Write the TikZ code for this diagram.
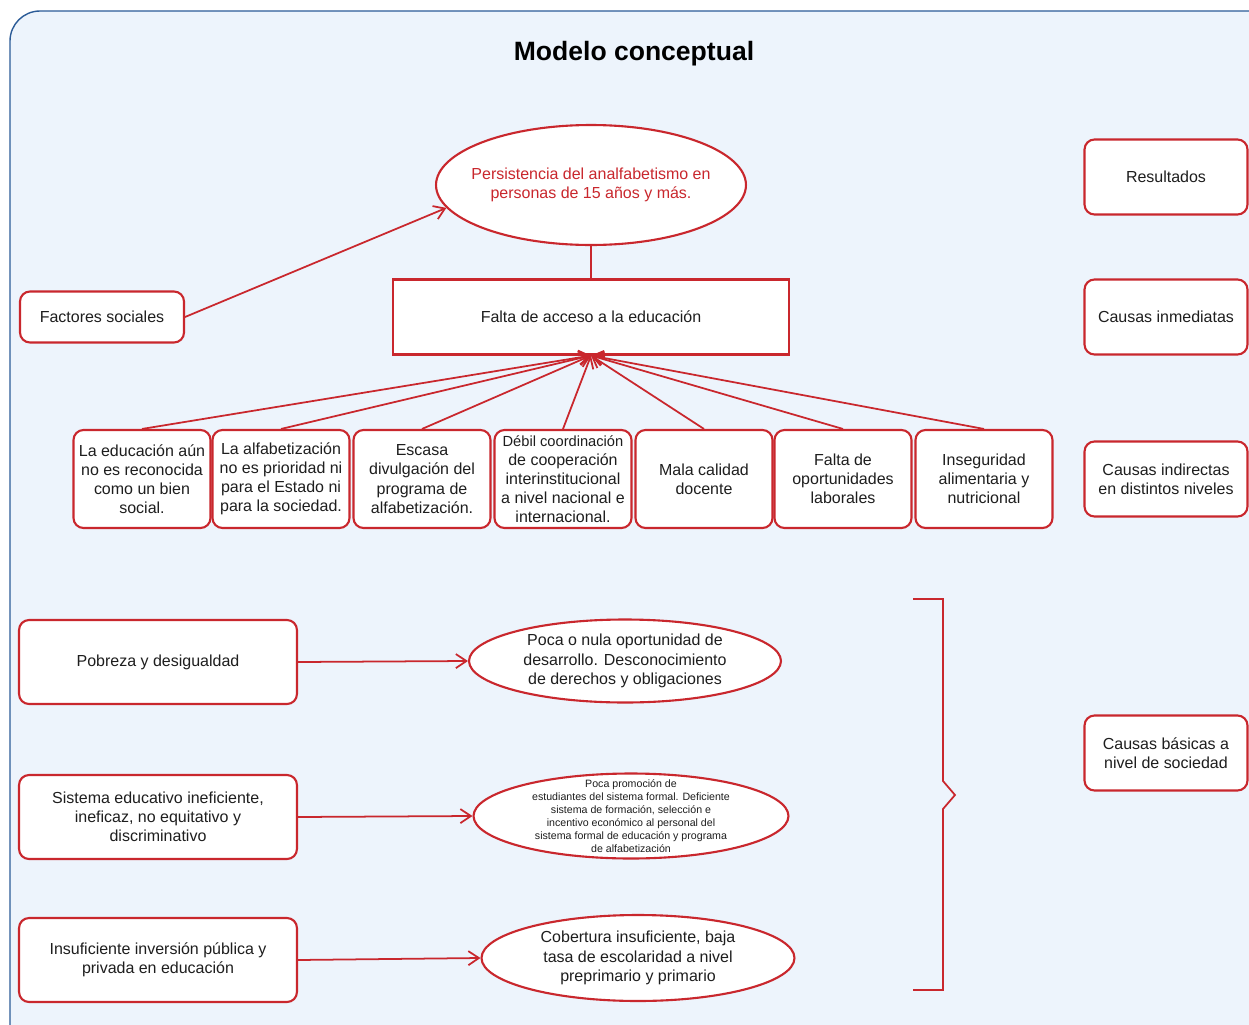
\documentclass[tikz,border=0pt]{standalone}
\usepackage{fontspec}
\setmainfont{Liberation Sans}
\usetikzlibrary{shapes.geometric,arrows.meta}
\definecolor{rojo}{HTML}{C9272D}
\definecolor{fondo}{HTML}{EDF4FC}
\definecolor{borde}{HTML}{2B5B97}
\definecolor{texto}{HTML}{1E1E1E}
\begin{document}
\begin{tikzpicture}[x=0.02cm,y=-0.02cm,
		caja/.style={draw=rojo,line width=1.2pt,fill=white,rounded corners=0.2cm,inner sep=1pt,align=center,text=texto,font=\fontsize{9.1}{10.9}\selectfont},
		indcaja/.style={caja,minimum width=2.74cm,minimum height=1.96cm},
		nivcaja/.style={caja,minimum width=3.26cm,minimum height=1.5cm},
		bascaja/.style={caja,minimum width=5.56cm,minimum height=1.68cm},
		elipse/.style={ellipse,draw=rojo,line width=1.2pt,fill=white,inner sep=0pt,align=center,text=texto,font=\fontsize{9.1}{10.9}\selectfont},
		flecha/.style={rojo,line width=1pt,-{Straight Barb[length=6pt,width=8pt]}}]
	\clip (0,0) rectangle (1249,1025);
	% fondo
	\draw[borde,line width=0.8pt,fill=fondo,rounded corners=0.6cm] (10,11) rectangle (1300,1070);
	\node[font=\fontsize{15.1}{17}\selectfont\bfseries,text=black] (titulo) at (634,54) {Modelo conceptual};
	% resultado
	\node[elipse,inner xsep=-6pt,minimum width=6.2cm,minimum height=2.4cm,text=rojo] (persistencia) at (591,185) {Persistencia del analfabetismo en\\personas de 15 años y más.};
	\node[caja,rounded corners=0pt,minimum width=7.92cm,minimum height=1.5cm] (falta) at (591,317) {Falta de acceso a la educación};
	\draw[rojo,line width=1.2pt] (persistencia.south) -- (falta.north);
	\node[caja,minimum width=3.28cm,minimum height=1.02cm] (factores) at (102,317) {Factores sociales};
	\draw[flecha] (factores.east) -- (persistencia.189);
	% causas indirectas
	\foreach \x/\t [count=\i] in {142/{La educación aún\\no es reconocida\\como un bien\\social.},
		281/{La alfabetización\\no es prioridad ni\\para el Estado ni\\para la sociedad.},
		422/{Escasa\\divulgación del\\programa de\\alfabetización.},
		563/{\fontsize{8.35}{10}\selectfont Débil coordinación\\de cooperación\\interinstitucional\\a nivel nacional e\\internacional.},
		704/{Mala calidad\\docente},
		843/{Falta de\\oportunidades\\laborales},
		984/{Inseguridad\\alimentaria y\\nutricional}} {
		\node[indcaja] (ind\i) at (\x,479) {\t};
	}
	\foreach \i in {1,...,7} {
		\draw[flecha] (ind\i.north) -- (falta.south);
	}
	% niveles
	\node[nivcaja] (resultados) at (1166,177) {Resultados};
	\node[nivcaja] (inmediatas) at (1166,317) {Causas inmediatas};
	\node[nivcaja] (indirectas) at (1166,479) {Causas indirectas\\en distintos niveles};
	\node[nivcaja] (basicas) at (1166,753) {Causas básicas a\\nivel de sociedad};
	% causas basicas
	\node[bascaja] (pobreza) at (158,662) {Pobreza y desigualdad};
	\node[bascaja] (sistema) at (158,817) {Sistema educativo ineficiente,\\ineficaz, no equitativo y\\discriminativo};
	\node[bascaja] (inversion) at (158,960) {Insuficiente inversión pública y\\privada en educación};
	\node[elipse,minimum width=6.24cm,minimum height=1.66cm] (oportunidad) at (625,661) {Poca o nula oportunidad de\\desarrollo. Desconocimiento\\de derechos y obligaciones};
	\node[elipse,inner ysep=-5.5pt,minimum width=6.3cm,minimum height=1.7cm,font=\fontsize{6.05}{7.4}\selectfont] (promocion) at (631,816) {Poca promoción de\\estudiantes del sistema formal. Deficiente\\sistema de formación, selección e\\incentivo económico al personal del\\sistema formal de educación y programa\\de alfabetización};
	\node[elipse,minimum width=6.26cm,minimum height=1.72cm] (cobertura) at (638,958) {Cobertura insuficiente, baja\\tasa de escolaridad a nivel\\preprimario y primario};
	\draw[flecha] (pobreza.east) -- (oportunidad.west);
	\draw[flecha] (sistema.east) -- (promocion.west);
	\draw[flecha] (inversion.east) -- (cobertura.west);
	% llave
	\draw[rojo,line width=1pt] (913,599) -- (943,599) -- (943,781) -- (955,795) -- (943,809) -- (943,990) -- (913,990);
\end{tikzpicture}
\end{document}
